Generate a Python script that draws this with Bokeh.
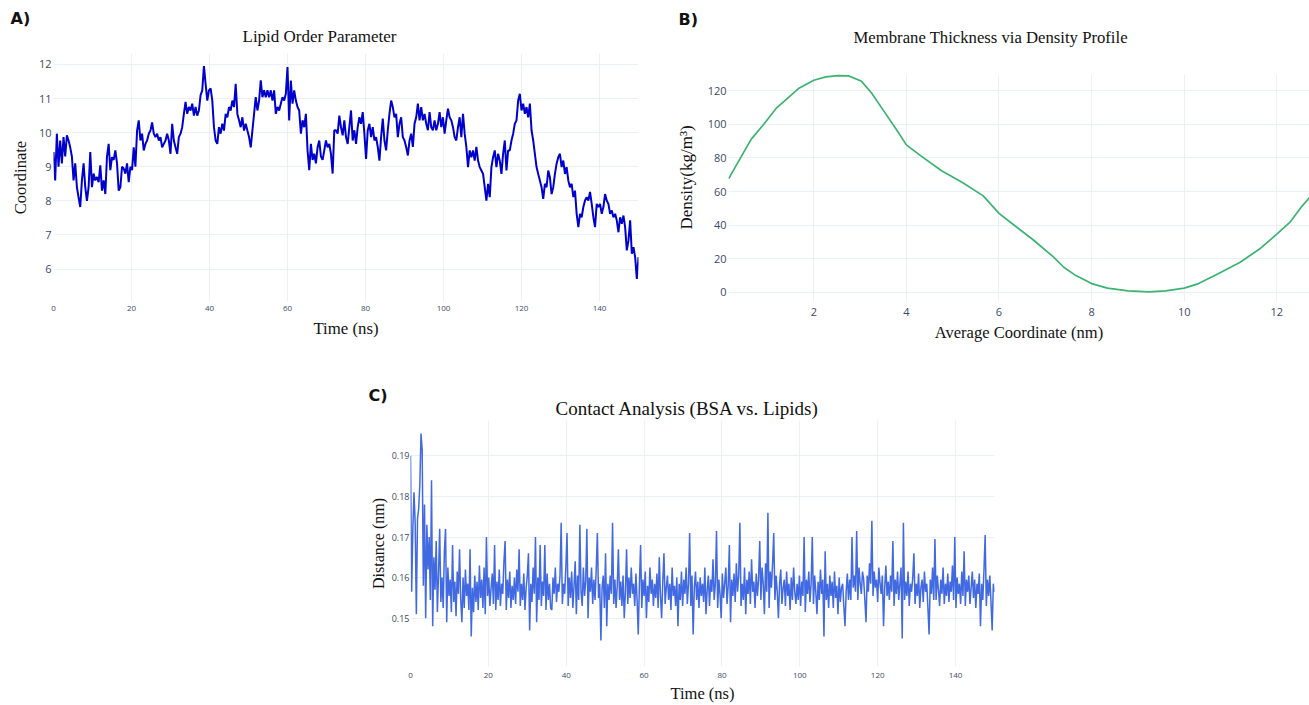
import numpy as np
from bokeh.plotting import figure
from bokeh.layouts import column, row
from bokeh.models import Spacer, FixedTicker, Range1d, BoxAnnotation, Title
from bokeh.embed import file_html
from bokeh.resources import INLINE

# ---------------- data ----------------
# Panel A: Lipid order parameter (coordinate) vs time (ns), sampled readings 0..150 ns
lipid_order = [
    9.43, 8.6, 9.97, 9.0, 9.77, 9.1, 9.87, 9.3, 9.92, 9.77,
    9.57, 9.3, 8.6, 9.1, 8.4, 8.1, 7.82, 8.6, 9.1, 8.4,
    8.0, 8.4, 9.43, 8.4, 8.8, 8.6, 8.7, 8.55, 9.04, 8.3,
    8.6, 8.2, 9.3, 9.67, 8.9, 9.28, 9.2, 9.48, 9.1, 8.3,
    8.4, 9.0, 8.95, 8.8, 9.1, 8.55, 9.0, 8.9, 9.57, 9.0,
    10.06, 10.36, 9.77, 9.97, 9.48, 9.67, 9.77, 9.97, 10.06, 10.3,
    9.97, 9.87, 9.97, 9.77, 9.87, 9.57, 9.67, 9.77, 9.97, 9.77,
    9.38, 10.26, 9.77, 9.57, 9.38, 9.87, 9.97, 10.16, 10.55, 10.9,
    10.55, 10.75, 10.65, 10.85, 10.5, 10.75, 10.5, 10.65, 11.1, 11.24,
    11.95, 11.43, 10.94, 11.24, 11.3, 10.94, 10.16, 9.77, 9.67, 10.16,
    9.97, 10.26, 10.06, 10.55, 10.45, 10.75, 10.65, 10.94, 10.75, 11.43,
    10.55, 10.36, 10.16, 10.45, 10.06, 10.26, 10.06, 9.87, 9.57, 10.06,
    10.55, 11.04, 10.65, 10.94, 11.53, 11.04, 11.24, 11.04, 11.24, 11.04,
    11.24, 10.94, 11.24, 10.55, 10.75, 10.65, 10.85, 11.04, 10.94, 11.14,
    11.92, 10.36, 11.53, 10.85, 11.24, 10.94, 10.75, 10.65, 9.97, 10.36,
    10.16, 10.55, 9.48, 8.9, 9.67, 9.2, 9.38, 9.1, 9.57, 9.77,
    9.3, 9.2, 9.48, 9.77, 9.57, 9.67,
    9.38, 8.8, 10.07, 10.07, 9.97, 10.5, 10.16, 9.92, 10.36, 9.87,
    9.67, 10.16, 10.65, 9.77, 10.07, 9.67, 10.16, 10.45, 10.26, 10.6,
    9.97, 9.23, 10.07, 10.26, 9.87, 10.16, 9.77, 9.87, 9.58, 9.18,
    9.87, 10.41, 9.77, 9.48, 10.07, 10.55, 10.94, 10.75, 10.45, 10.55,
    9.87, 10.26, 10.45, 9.87, 9.77, 9.58, 9.33, 9.77, 9.97, 9.58,
    10.26, 10.45, 10.85, 10.36, 10.75, 10.36, 10.55, 10.26, 10.07, 10.6,
    10.16, 10.07, 10.36, 10.07, 10.26, 10.6, 10.16, 10.45, 9.97, 10.36,
    10.7, 10.45, 10.36, 10.16, 9.87, 9.77, 10.16, 10.45, 9.87, 10.55,
    9.97, 9.58, 8.99, 9.48, 9.28, 9.48, 9.18, 9.58, 9.18, 8.99,
    8.89, 8.79, 8.4, 8.01, 8.5, 8.11, 8.99, 9.28, 9.48, 8.99,
    9.38, 9.18, 8.79, 9.38, 9.77, 8.89, 9.48, 9.48, 9.77, 9.97,
    10.26, 10.36, 10.94, 11.14, 10.65, 10.85, 10.55, 10.75, 10.45, 10.85,
    10.07, 9.77, 9.38, 8.99, 8.79, 8.6, 8.4, 8.06, 8.5, 8.4,
    8.89, 8.69, 8.2, 8.4, 8.79, 9.09, 9.28, 9.38, 8.99, 9.18,
    8.79, 8.99, 8.6, 8.4, 8.5, 8.11, 8.3, 7.62, 7.23, 7.62,
    7.52, 7.82, 8.01, 8.11, 8.01, 8.26, 7.91, 7.52, 7.23, 7.91,
    7.82, 7.91, 7.62, 7.82, 8.2, 8.01, 7.91, 7.62, 7.72, 7.52,
    7.62, 7.43, 7.08, 7.52, 7.33, 7.57, 7.23, 6.55, 6.84, 7.43,
    6.45, 6.64, 6.35, 5.71, 6.35,
]
lipid_time = np.linspace(0, 150, len(lipid_order))

# Panel B: density profile
density_coord = [0.16, 0.38, 0.65, 0.92, 1.19, 1.45, 1.68, 2.0, 2.26, 2.53,
                 2.75, 3.02, 3.24, 3.51, 3.78, 4.0, 4.32, 4.76, 5.21, 5.66,
                 6.0, 6.28, 6.73, 7.18, 7.4, 7.63, 8.0, 8.34, 8.79, 9.24,
                 9.6, 10.0, 10.31, 10.67, 11.2, 11.65, 12.0, 12.28, 12.55, 12.71, 13.0]
density_val = [67.5, 78.2, 91.1, 100.0, 109.5, 115.8, 121.4, 126.1, 128.1, 128.9,
               128.7, 125.7, 118.8, 107.9, 97.0, 87.7, 81.0, 72.3, 65.3, 57.4,
               47.0, 41.0, 31.5, 21.0, 15.0, 10.6, 5.3, 2.6, 1.0, 0.4,
               1.0, 2.6, 5.3, 10.3, 17.8, 26.3, 34.7, 41.6, 51.5, 56.4, 64.0]

# Panel C: contact distance, in units of 1e-4 nm, every 0.3 ns
contact_e4nm = [
    1900, 1565, 1720, 1810, 1735, 1510, 1745, 1770, 1830, 1955,
    1915, 1580, 1780, 1500, 1730, 1620, 1700, 1545, 1840, 1480,
    1650, 1570, 1690, 1515, 1610, 1720, 1540, 1600, 1525, 1665,
    1720, 1490, 1625, 1555, 1595, 1515, 1680, 1540, 1590, 1505,
    1615, 1560, 1670, 1545, 1490, 1600, 1525, 1620, 1555, 1585,
    1520, 1670, 1455, 1575, 1515, 1605, 1540, 1590, 1520, 1630,
    1550, 1595, 1525, 1625, 1510, 1700, 1555, 1600, 1530, 1575,
    1610, 1535, 1680, 1520, 1590, 1545, 1620, 1530, 1585, 1560,
    1640, 1690, 1520, 1595, 1550, 1615, 1525, 1580, 1545, 1600,
    1535, 1620, 1565, 1670, 1530, 1585, 1545, 1610, 1520, 1575,
    1605, 1660, 1470, 1585, 1540, 1625, 1560, 1700, 1490, 1600,
    1545, 1680, 1530, 1590, 1555, 1680, 1520, 1610, 1545, 1585,
    1525, 1520, 1600, 1560, 1625, 1540, 1585, 1565, 1605, 1735,
    1535, 1585, 1560, 1625, 1710, 1530, 1600, 1550, 1615, 1525,
    1580, 1640, 1510, 1605, 1545, 1730, 1565, 1530, 1625, 1555,
    1590, 1720, 1500, 1600, 1565, 1625, 1535, 1595, 1545, 1620,
    1710, 1550, 1585, 1445, 1575, 1605, 1525, 1660, 1480, 1585,
    1545, 1605, 1560, 1735, 1535, 1595, 1525, 1580, 1670, 1545,
    1590, 1530, 1605, 1500, 1565, 1670, 1535, 1600, 1550, 1625,
    1560, 1585, 1530, 1610, 1545, 1460, 1585, 1680, 1525, 1595,
    1555, 1615, 1500, 1580, 1540, 1625, 1560, 1595, 1530, 1585,
    1550, 1610, 1525, 1650, 1555, 1500, 1590, 1660, 1535, 1575,
    1605, 1545, 1585, 1520, 1625, 1555, 1580, 1530, 1600, 1480,
    1585, 1545, 1615, 1530, 1595, 1560, 1625, 1535, 1585, 1710,
    1530, 1605, 1460, 1575, 1615, 1545, 1590, 1525, 1600, 1555,
    1585, 1540, 1625, 1510, 1570, 1605, 1530, 1595, 1565, 1645,
    1545, 1585, 1715, 1525, 1595, 1560, 1500, 1610, 1550, 1585,
    1625, 1535, 1580, 1680, 1490, 1595, 1555, 1610, 1540, 1635,
    1565, 1605, 1735, 1530, 1585, 1545, 1625, 1510, 1595, 1560,
    1615, 1535, 1645, 1565, 1590, 1525, 1610, 1555, 1595, 1690,
    1545, 1625, 1585, 1510, 1635, 1565, 1760, 1525, 1615, 1575,
    1635, 1710, 1545, 1605, 1565, 1500, 1585, 1620, 1535, 1575,
    1595, 1530, 1615, 1555, 1585, 1520, 1600, 1545, 1625, 1565,
    1535, 1585, 1545, 1605, 1530, 1590, 1555, 1700, 1515, 1595,
    1560, 1615, 1540, 1585, 1700, 1535, 1605, 1565, 1510, 1590,
    1545, 1620, 1560, 1595, 1455, 1665, 1545, 1585, 1525, 1605,
    1555, 1590, 1525, 1615, 1550, 1580, 1510, 1600, 1540, 1575,
    1585, 1530, 1480, 1565, 1610, 1545, 1595, 1545, 1700, 1575,
    1605, 1565, 1715, 1545, 1625, 1585, 1560, 1615, 1595, 1545,
    1490, 1605, 1565, 1635, 1585, 1740, 1555, 1615, 1575, 1595,
    1540, 1625, 1585, 1560, 1605, 1480, 1575, 1630, 1555, 1590,
    1545, 1605, 1565, 1690, 1530, 1595, 1560, 1615, 1545, 1585,
    1625, 1450, 1735, 1545, 1590, 1555, 1615, 1530, 1585, 1565,
    1600, 1660, 1535, 1585, 1555, 1610, 1525, 1575, 1595, 1540,
    1615, 1565, 1585, 1525, 1460, 1595, 1560, 1625, 1545, 1695,
    1545, 1605, 1570, 1530, 1595, 1560, 1625, 1535, 1585, 1555,
    1610, 1540, 1590, 1565, 1630, 1545, 1700, 1525, 1600, 1560,
    1585, 1535, 1615, 1555, 1665, 1530, 1595, 1565, 1605, 1535,
    1575, 1615, 1550, 1595, 1525, 1585, 1560, 1610, 1480, 1585,
    1545, 1620, 1705, 1530, 1595, 1555, 1605, 1540, 1470, 1585,
    1565,
]
contact_dist = np.array(contact_e4nm) / 1e4
contact_time = np.linspace(0, 150, len(contact_dist))

time_ticks = [0, 20, 40, 60, 80, 100, 120, 140]
lipid_ticks = [6, 7, 8, 9, 10, 11, 12]
density_xticks = [2, 4, 6, 8, 10, 12]
density_yticks = [0, 20, 40, 60, 80, 100, 120]
contact_yticks = [0.15, 0.16, 0.17, 0.18, 0.19]

# ---------------- style ----------------
TICK_COLOR = "#3c4a66"
GRID = "#ebf0f8"
SERIF = "Liberation Serif"
SANS = "Open Sans"


def make_fig(width, height, xr, yr, mbl, mbr, mbt, mbb,
             tag, tag_offset, tag_standoff, title, title_offset, title_size, title_standoff):
    # the plot's own title (outermost row) carries the panel tag
    p = figure(width=width, height=height, x_range=Range1d(*xr), y_range=Range1d(*yr),
               output_backend="svg", toolbar_location=None, title=tag,
               min_border_left=mbl, min_border_right=mbr, min_border_top=mbt, min_border_bottom=mbb)
    p.outline_line_color = None
    p.background_fill_color = "white"
    p.border_fill_color = "white"
    for ax in (p.xaxis[0], p.yaxis[0]):
        ax.axis_line_color = None
        ax.major_tick_line_color = None
        ax.minor_tick_line_color = None
        ax.major_tick_out = 0
        ax.major_tick_in = 0
        ax.minor_tick_out = 0
        ax.major_label_text_color = TICK_COLOR
        ax.major_label_text_font = SANS
        ax.axis_label_text_font = SERIF
        ax.axis_label_text_font_style = "normal"
        ax.axis_label_text_color = "#111111"
    p.xgrid.grid_line_color = GRID
    p.ygrid.grid_line_color = GRID
    p.title.text_font = "DejaVu Sans"
    p.title.text_font_style = "bold"
    p.title.text_font_size = "16px"
    p.title.text_color = "#111111"
    p.title.align = "left"
    p.title.offset = tag_offset
    p.title.standoff = tag_standoff
    p.add_layout(Title(text=title, align="left", offset=title_offset, standoff=title_standoff,
                       text_font=SERIF, text_font_style="normal", text_font_size=title_size,
                       text_color="#111111"), "above")
    return p


# ---------------- Panel A ----------------
pA = make_fig(660, 346, (0, 150), (5.05, 12.32), 53, 22, 53, 45,
              "A)", -43, -23, "Lipid Order Parameter", 189, "17px", 16)
pA.line(lipid_time, lipid_order, line_color="#0000cd", line_width=2)
pA.xaxis[0].ticker = FixedTicker(ticks=time_ticks, minor_ticks=[])
pA.yaxis[0].ticker = FixedTicker(ticks=lipid_ticks, minor_ticks=[])
pA.xaxis[0].major_label_text_font_size = "8px"
pA.yaxis[0].major_label_text_font_size = "11px"
pA.xaxis[0].major_label_standoff = 4
pA.yaxis[0].major_label_standoff = 2
pA.xaxis[0].axis_label = "Time (ns)"
pA.yaxis[0].axis_label = "Coordinate"
pA.xaxis[0].axis_label_text_font_size = "16.8px"
pA.yaxis[0].axis_label_text_font_size = "16.5px"
pA.xaxis[0].axis_label_standoff = 5
pA.yaxis[0].axis_label_standoff = 6

# ---------------- Panel B ----------------
# frame shares top/bottom borders with panel A (row alignment); the
# reference plot area of B ends at DENSITY_TOP, above it stays blank
DENSITY_TOP = 129.3
pB = make_fig(649, 346, (0.158, 12.706), (-5.35, 142.0), 68, 0, 53, 45,
              "B)", -50, -18, "Membrane Thickness via Density Profile", 125, "16.7px", 13)
pB.line(density_coord, density_val, line_color="#3cb371", line_width=1.7)
pB.add_layout(BoxAnnotation(bottom=DENSITY_TOP, fill_color="white", fill_alpha=1.0,
                            line_color=None, level="underlay"))
pB.xaxis[0].ticker = FixedTicker(ticks=density_xticks, minor_ticks=[])
pB.yaxis[0].ticker = FixedTicker(ticks=density_yticks, minor_ticks=[])
pB.xaxis[0].major_label_text_font_size = "11px"
pB.yaxis[0].major_label_text_font_size = "11px"
pB.xaxis[0].major_label_standoff = 6
pB.yaxis[0].major_label_standoff = 2
pB.xaxis[0].axis_label = "Average Coordinate (nm)"
pB.yaxis[0].axis_label = "Density(kg/m\u00b3)"
pB.xaxis[0].axis_label_text_font_size = "16.5px"
pB.yaxis[0].axis_label_text_font_size = "17px"
pB.xaxis[0].axis_label_standoff = 4
pB.yaxis[0].axis_label_standoff = 9

# ---------------- Panel C ----------------
pC = make_fig(654, 359, (0, 150), (0.1381, 0.1987), 50, 20, 74, 38,
              "C)", -42, -21, "Contact Analysis (BSA vs. Lipids)", 145, "19px", 3)
pC.line(contact_time, contact_dist, line_color="#4169e1", line_width=1.5)
pC.xaxis[0].ticker = FixedTicker(ticks=time_ticks, minor_ticks=[])
pC.yaxis[0].ticker = FixedTicker(ticks=contact_yticks, minor_ticks=[])
pC.xaxis[0].major_label_text_font_size = "8px"
pC.yaxis[0].major_label_text_font_size = "9px"
pC.xaxis[0].major_label_standoff = 6
pC.yaxis[0].major_label_standoff = 1
pC.xaxis[0].axis_label = "Time (ns)"
pC.yaxis[0].axis_label = "Distance (nm)"
pC.xaxis[0].axis_label_text_font_size = "16.5px"
pC.yaxis[0].axis_label_text_font_size = "16px"
pC.xaxis[0].axis_label_standoff = 3
pC.yaxis[0].axis_label_standoff = 2

layout = column(row(pA, pB), row(Spacer(width=360, height=359), pC))

with open("out.html", "w") as f:
    f.write(file_html(layout, INLINE))
